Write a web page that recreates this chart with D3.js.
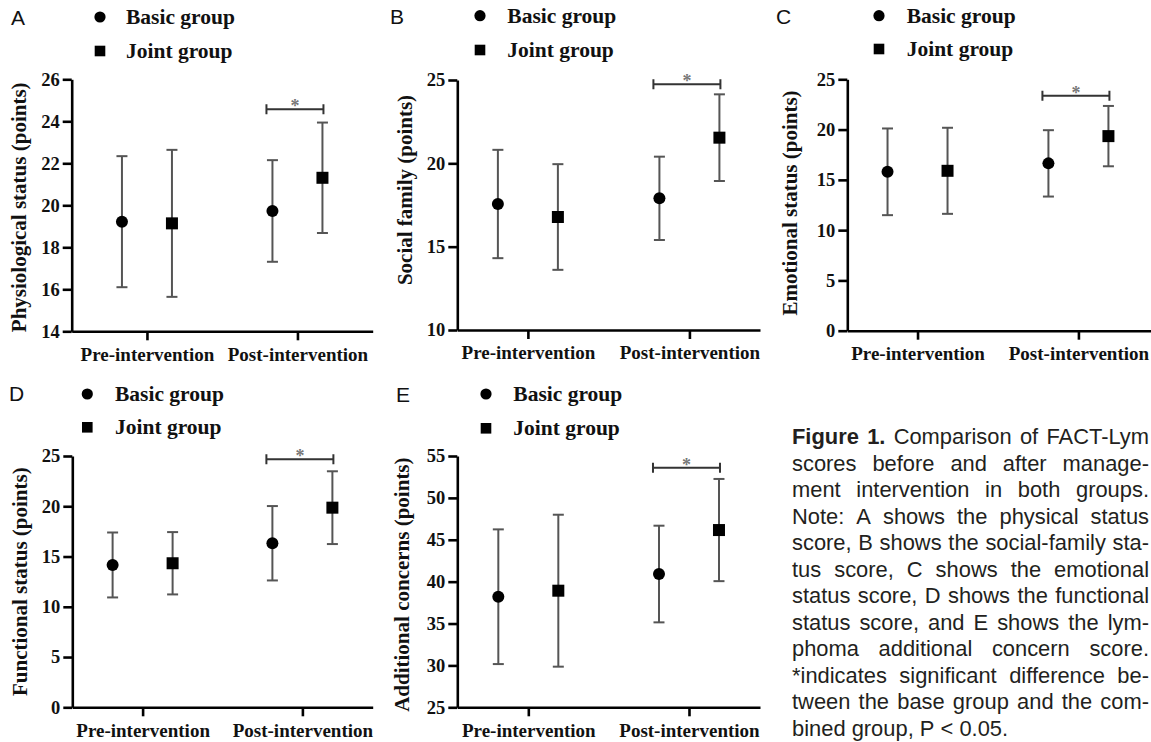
<!DOCTYPE html>
<html><head><meta charset="utf-8">
<script src="https://cdn.jsdelivr.net/npm/d3@7"></script>
<style>body{margin:0;background:#fff;} svg{display:block;}</style>
</head><body><svg id="chart" width="1151" height="742"></svg>
<script>
// ---------- data ----------
const categories = ["Pre-intervention", "Post-intervention"];
const groups = ["Basic group", "Joint group"];
const panelLetters = ["A", "B", "C", "D", "E"];
const yTitles = ["Physiological status (points)", "Social family (points)", "Emotional status (points)", "Functional status (points)", "Additional concerns (points)"];
const yTicksA = [14, 16, 18, 20, 22, 24, 26];
const yTicksB = [10, 15, 20, 25];
const yTicksC = [0, 5, 10, 15, 20, 25];
const yTicksD = [0, 5, 10, 15, 20, 25];
const yTicksE = [25, 30, 35, 40, 45, 50, 55];
// mean and SD, [pre, post]
const basicMeanA = [19.22, 19.73], basicSdA = [3.12, 2.42];
const jointMeanA = [19.14, 21.31], jointSdA = [3.50, 2.63];
const basicMeanB = [17.56, 17.90], basicSdB = [3.25, 2.50];
const jointMeanB = [16.78, 21.54], jointSdB = [3.17, 2.60];
const basicMeanC = [15.80, 16.64], basicSdC = [4.31, 3.30];
const jointMeanC = [15.90, 19.35], jointSdC = [4.28, 3.00];
const basicMeanD = [14.16, 16.32], basicSdD = [3.23, 3.70];
const jointMeanD = [14.33, 19.86], jointSdD = [3.10, 3.62];
const basicMeanE = [38.20, 40.91], basicSdE = [8.04, 5.77];
const jointMeanE = [38.92, 46.16], jointSdE = [9.07, 6.10];
const sigLevels = [24.57, 24.74, 23.36, 24.68, 53.6];
const sigLabel = "*";
const captionLines = [
  "Figure 1. Comparison of FACT-Lym",
  "scores before and after manage-",
  "ment intervention in both groups.",
  "Note: A shows the physical status",
  "score, B shows the social-family sta-",
  "tus score, C shows the emotional",
  "status score, D shows the functional",
  "status score, and E shows the lym-",
  "phoma additional concern score.",
  "*indicates significant difference be-",
  "tween the base group and the com-",
  "bined group, P < 0.05."
];

const panelData = [
  {ticks: yTicksA, basic: [basicMeanA, basicSdA], joint: [jointMeanA, jointSdA]},
  {ticks: yTicksB, basic: [basicMeanB, basicSdB], joint: [jointMeanB, jointSdB]},
  {ticks: yTicksC, basic: [basicMeanC, basicSdC], joint: [jointMeanC, jointSdC]},
  {ticks: yTicksD, basic: [basicMeanD, basicSdD], joint: [jointMeanD, jointSdD]},
  {ticks: yTicksE, basic: [basicMeanE, basicSdE], joint: [jointMeanE, jointSdE]}
];

// ---------- layout ----------
const layout = [
  {x0: 71.7, x1: 372.7, yTop: 79.3, yBot: 331.3, pad: 0.5, align: 0.5, off: 25, letter: [11, 25], leg: [100, 17, 51, 126], titleX: 20.7, titleShift: 2},
  {x0: 457.3, x1: 760, yTop: 80, yBot: 330, pad: 0.437, align: 0.5, off: 30, letter: [390, 24], leg: [480, 15.7, 50, 507.3], titleX: 406.7, titleShift: -15},
  {x0: 847.3, x1: 1153, yTop: 79.3, yBot: 330.7, pad: 0.45, align: 0.485, off: 30, letter: [776, 24], leg: [879, 15.7, 49, 906.7], titleX: 791.7, titleShift: -2},
  {x0: 72.3, x1: 372.7, yTop: 456, yBot: 707.3, pad: 0.44, align: 0.5, off: 30, letter: [9, 401], leg: [87.3, 394, 427.3, 115], titleX: 21.7, titleShift: 0},
  {x0: 457.3, x1: 760, yTop: 456, yBot: 707.3, pad: 0.442, align: 0.5, off: 30, letter: [396, 402], leg: [486, 394, 428.3, 513.3], titleX: 403.3, titleShift: 3}
];

const serif = "'Liberation Serif', 'Times New Roman', serif";
const sans = "'Liberation Sans', Arial, sans-serif";
const svg = d3.select("#chart");

panelData.forEach((pd, i) => {
  const L = layout[i];
  const g = svg.append("g");
  const y = d3.scaleLinear().domain([pd.ticks[0], pd.ticks[pd.ticks.length - 1]]).range([L.yBot, L.yTop]);
  const x = d3.scalePoint().domain(categories).range([L.x0, L.x1]).padding(L.pad).align(L.align);
  const gx = d3.scaleOrdinal().domain(groups).range([-L.off, L.off]);

  // panel letter
  g.append("text").attr("x", L.letter[0]).attr("y", L.letter[1])
    .attr("font-family", sans).attr("font-size", 21).attr("fill", "#111").text(panelLetters[i]);

  // legend
  const lg = g.append("g");
  lg.append("circle").attr("cx", L.leg[0]).attr("cy", L.leg[1]).attr("r", 5.6).attr("fill", "#000");
  lg.append("rect").attr("x", L.leg[0] - 5.3).attr("y", L.leg[2] - 5.3).attr("width", 10.6).attr("height", 10.6).attr("fill", "#000");
  [L.leg[1], L.leg[2]].forEach((cy, k) => {
    lg.append("text").attr("x", L.leg[3]).attr("y", cy + 7)
      .attr("font-family", serif).attr("font-weight", "bold").attr("font-size", 21.5)
      .attr("fill", "#111").text(groups[k]);
  });

  // axes
  const yAxis = g.append("g").attr("transform", `translate(${L.x0},0)`)
    .call(d3.axisLeft(y).tickValues(pd.ticks).tickSize(9).tickPadding(3).tickSizeOuter(0).tickFormat(d3.format("d")));
  const xAxis = g.append("g").attr("transform", `translate(0,${L.yBot})`)
    .call(d3.axisBottom(x).tickSize(9).tickPadding(7).tickSizeOuter(0));
  [yAxis, xAxis].forEach(a => {
    a.select(".domain").attr("stroke", "#000").attr("stroke-width", 2.6);
    a.selectAll(".tick line").attr("stroke", "#000").attr("stroke-width", 2.6);
    a.selectAll("text").attr("font-family", serif).attr("font-weight", "bold").attr("fill", "#111");
  });
  yAxis.selectAll("text").attr("font-size", 18.5);
  xAxis.selectAll("text").attr("font-size", 19);

  // y title
  g.append("text")
    .attr("transform", `translate(${L.titleX},${(L.yTop + L.yBot) / 2 + L.titleShift}) rotate(-90)`)
    .attr("text-anchor", "middle").attr("dy", "0.25em")
    .attr("font-family", serif).attr("font-weight", "bold").attr("font-size", 21)
    .attr("fill", "#111").text(yTitles[i]);

  // points
  const pts = [];
  groups.forEach((grp, k) => {
    const [means, sds] = k === 0 ? pd.basic : pd.joint;
    categories.forEach((c, j) => pts.push({grp, k, c, m: means[j], sd: sds[j]}));
  });
  const eb = g.append("g").attr("stroke", "#555").attr("stroke-width", 2);
  pts.forEach(p => {
    const cx = x(p.c) + gx(p.grp);
    eb.append("line").attr("x1", cx).attr("x2", cx).attr("y1", y(p.m + p.sd)).attr("y2", y(p.m - p.sd));
    eb.append("line").attr("x1", cx - 5.5).attr("x2", cx + 5.5).attr("y1", y(p.m + p.sd)).attr("y2", y(p.m + p.sd));
    eb.append("line").attr("x1", cx - 5.5).attr("x2", cx + 5.5).attr("y1", y(p.m - p.sd)).attr("y2", y(p.m - p.sd));
  });
  pts.forEach(p => {
    const cx = x(p.c) + gx(p.grp), cy = y(p.m);
    if (p.k === 0) g.append("circle").attr("cx", cx).attr("cy", cy).attr("r", 6).attr("fill", "#000");
    else g.append("rect").attr("x", cx - 6).attr("y", cy - 6).attr("width", 12).attr("height", 12).attr("fill", "#000");
  });

  // significance bracket on post-intervention
  const bx1 = x(categories[1]) + gx(groups[0]) - 6;
  const bx2 = x(categories[1]) + gx(groups[1]) + 1;
  const by = y(sigLevels[i]);
  g.append("path").attr("d", `M${bx1},${by - 5}V${by + 5}M${bx1},${by}H${bx2}M${bx2},${by - 5}V${by + 5}`)
    .attr("fill", "none").attr("stroke", "#333").attr("stroke-width", 2);
  g.append("text").attr("x", (bx1 + bx2) / 2).attr("y", by + 3).attr("text-anchor", "middle")
    .attr("font-family", serif).attr("font-weight", "bold").attr("font-size", 18).attr("fill", "#777").text(sigLabel);
});

// ---------- caption (justified, kept inside the frame) ----------
const capX = 792, capRight = 1149, capY0 = 444, capLH = 26.5, capFS = 21.9;
const cap = svg.append("g").attr("font-family", sans).attr("font-size", capFS).attr("fill", "#231f20");
captionLines.forEach((line, li) => {
  const words = line.split(" ");
  const nodes = words.map((w, wi) => {
    const t = cap.append("text").attr("y", capY0 + li * capLH).text(w);
    if (li === 0 && wi < 2) t.attr("font-weight", "bold");
    return t;
  });
  const widths = nodes.map(n => n.node().getComputedTextLength());
  const total = d3.sum(widths);
  const last = li === captionLines.length - 1;
  const natural = capFS * 0.278;
  let gap = (!last && words.length > 1) ? (capRight - capX - total) / (words.length - 1) : natural;
  gap = Math.max(gap, 3);
  let xx = capX;
  nodes.forEach((n, k) => { n.attr("x", xx); xx += widths[k] + gap; });
});
</script>
</body></html>
